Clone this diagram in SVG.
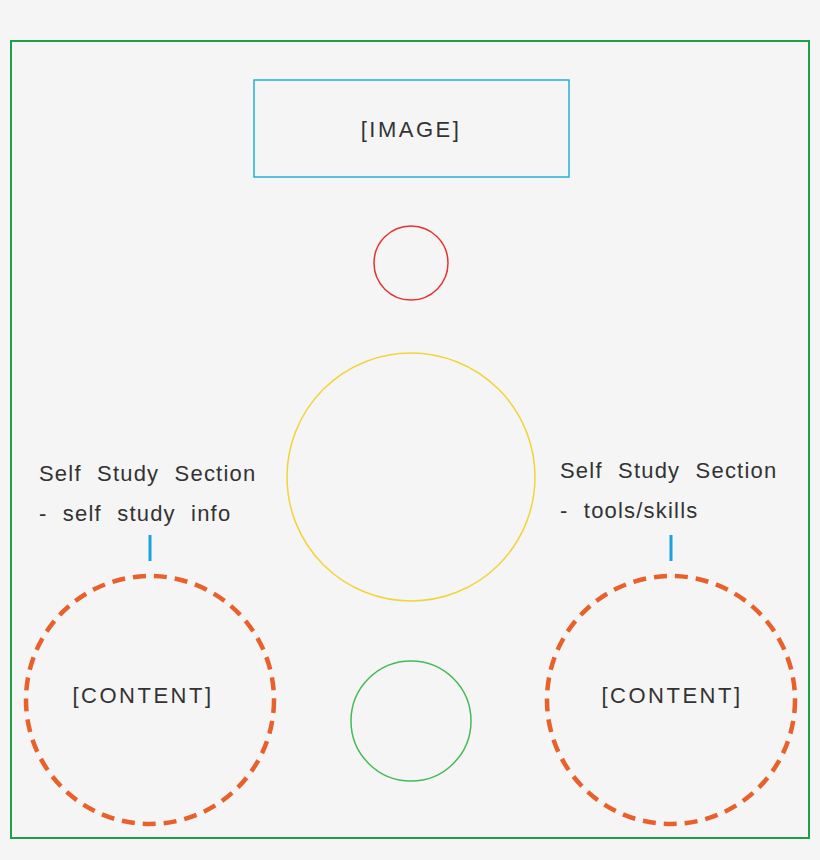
<svg xmlns="http://www.w3.org/2000/svg" width="820" height="860" viewBox="0 0 820 860">
<style>
text{font-family:"Liberation Sans",Arial,sans-serif;font-size:22px;fill:#333;word-spacing:8px;letter-spacing:1.2px}
.c{text-anchor:middle;letter-spacing:2.5px}
.dash{fill:none;stroke:#e8602a;stroke-width:4.5;stroke-dasharray:13 8}
.tick{stroke:#1aa3e0;stroke-width:3}
</style>
<rect width="820" height="860" fill="#f5f5f5"/>
<rect x="11" y="41" width="798" height="797" fill="none" stroke="#1ea04a" stroke-width="2"/>
<g id="image"><rect x="254" y="80" width="315" height="97" fill="none" stroke="#22b0d8" stroke-width="1.5"/><text class="c" x="411" y="137">[IMAGE]</text></g>
<g id="red"><circle cx="411" cy="263" r="37" fill="none" stroke="#e53333" stroke-width="1.5"/></g>
<g id="yellow"><circle cx="411" cy="477" r="124" fill="none" stroke="#f2d43a" stroke-width="1.5"/></g>
<g id="green"><circle cx="411" cy="721" r="60" fill="none" stroke="#44bb55" stroke-width="1.5"/></g>
<g id="left"><circle class="dash" cx="150" cy="700" r="124"/><text class="c" x="143" y="703">[CONTENT]</text>
<text x="39" y="481">Self Study Section</text><text x="39" y="521">- self study info</text></g>
<g id="right"><circle class="dash" cx="671" cy="700" r="124"/><text class="c" x="672" y="703">[CONTENT]</text>
<text x="560" y="478">Self Study Section</text><text x="560" y="518">- tools/skills</text></g>
<g id="connectors"><line class="tick" x1="150" y1="535" x2="150" y2="561"/><line class="tick" x1="671" y1="535" x2="671" y2="561"/></g>
</svg>
